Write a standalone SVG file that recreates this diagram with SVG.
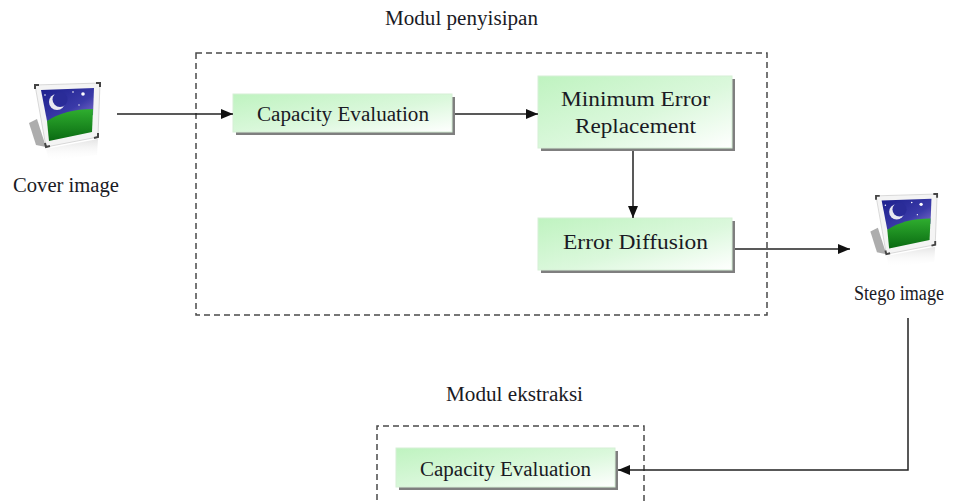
<svg xmlns="http://www.w3.org/2000/svg" width="954" height="504" viewBox="0 0 954 504">
<style>
.t{font-family:"Liberation Serif","DejaVu Serif","Times New Roman",serif;font-size:20px;fill:#1a1a24}
.dash{fill:none;stroke:#4a4a4a;stroke-width:1.5;stroke-dasharray:6 4}
.box{fill:url(#gBox);stroke:#d6efd6;stroke-width:1}
.shadow{fill:#7f7f7f}
.ln{fill:none;stroke:#222;stroke-width:1.5}
</style>
<defs>
<linearGradient id="gBox" x1="0" y1="0" x2="1" y2="1">
<stop offset="0" stop-color="#bff3c0"/>
<stop offset="0.55" stop-color="#dbf8dc"/>
<stop offset="1" stop-color="#ffffff"/>
</linearGradient>
<linearGradient id="gSky" x1="0" y1="0" x2="1" y2="1">
<stop offset="0" stop-color="#1b1f8c"/>
<stop offset="0.6" stop-color="#3a3aa8"/>
<stop offset="1" stop-color="#8a78d0"/>
</linearGradient>
<linearGradient id="gGrass" x1="0" y1="0" x2="0" y2="1">
<stop offset="0" stop-color="#2fae2f"/>
<stop offset="1" stop-color="#0a6a12"/>
</linearGradient>
<linearGradient id="gRefl" x1="0" y1="0" x2="0" y2="1">
<stop offset="0" stop-color="#d8d8d8" stop-opacity="0.7"/>
<stop offset="1" stop-color="#ffffff" stop-opacity="0"/>
</linearGradient>
<marker id="ah" viewBox="0 0 12 10" refX="12" refY="5" markerWidth="12" markerHeight="10" markerUnits="userSpaceOnUse" orient="auto">
<path d="M0,0 L12,5 L0,10 Z" fill="#111"/>
</marker>
<g id="icon">
<polygon points="-6,40 1,62 11,64 2,36" fill="#8a8a8a" opacity="0.7"/>
<polygon points="11,66 63,56 62,72 14,78" fill="url(#gRefl)"/>
<polygon points="0,2 65,0 63,54 11,64" fill="#f4f4f4" stroke="#cfcfcf" stroke-width="0.8"/>
<polygon points="6,7 59,5 58,32 12,38" fill="url(#gSky)"/>
<path d="M12,38 Q30,26 58,26 L57,49 L14,58 Z" fill="url(#gGrass)"/>
<circle cx="22" cy="19" r="8" fill="#e8e8f0"/>
<circle cx="25" cy="16.5" r="7.5" fill="#2a2c98"/>
<circle cx="48" cy="11" r="1.8" fill="#fff"/>
<circle cx="38" cy="9" r="0.8" fill="#fff"/>
<circle cx="10" cy="12" r="0.8" fill="#fff"/>
<circle cx="44" cy="22" r="0.7" fill="#fff"/>
<path d="M0,6 L0,2 L4,2" fill="none" stroke="#444" stroke-width="2"/>
<path d="M61,0 L65,0 L65,4" fill="none" stroke="#444" stroke-width="2"/>
<path d="M63,50 L63,54 L59,55" fill="none" stroke="#444" stroke-width="2"/>
<path d="M15,63 L11,64 L10,60" fill="none" stroke="#444" stroke-width="2"/>
</g>
</defs>
<rect width="954" height="504" fill="#fff"/>

<g id="modul-penyisipan">
<text class="t" x="385" y="25" textLength="153" lengthAdjust="spacingAndGlyphs">Modul penyisipan</text>
<rect class="dash" x="196" y="53" width="571" height="262"/>
</g>

<g id="modul-ekstraksi">
<text class="t" x="446" y="401" textLength="137" lengthAdjust="spacingAndGlyphs">Modul ekstraksi</text>
<path class="dash" d="M377,510 L377,426 L644,426 L644,510"/>
</g>

<g id="cover-image">
<use href="#icon" transform="translate(35,83)"/>
<text class="t" x="13" y="192" textLength="106" lengthAdjust="spacingAndGlyphs">Cover image</text>
</g>

<g id="stego-image">
<use href="#icon" transform="translate(876,194) scale(0.94)"/>
<text class="t" x="854" y="300" textLength="90" lengthAdjust="spacingAndGlyphs">Stego image</text>
</g>

<g id="capacity-evaluation-1">
<rect class="shadow" x="236" y="97" width="219" height="38"/>
<rect class="box" x="233" y="94" width="219" height="38"/>
<text class="t" x="257" y="121" textLength="172" lengthAdjust="spacingAndGlyphs">Capacity Evaluation</text>
</g>

<g id="minimum-error-replacement">
<rect class="shadow" x="541" y="79" width="194" height="72"/>
<rect class="box" x="538" y="76" width="194" height="72"/>
<text class="t" x="561" y="106" textLength="149" lengthAdjust="spacingAndGlyphs">Minimum Error</text>
<text class="t" x="575" y="133" textLength="121" lengthAdjust="spacingAndGlyphs">Replacement</text>
</g>

<g id="error-diffusion">
<rect class="shadow" x="541" y="221" width="194" height="52"/>
<rect class="box" x="538" y="218" width="194" height="52"/>
<text class="t" x="563" y="249" textLength="145" lengthAdjust="spacingAndGlyphs">Error Diffusion</text>
</g>

<g id="capacity-evaluation-2">
<rect class="shadow" x="399" y="451" width="219" height="39"/>
<rect class="box" x="396" y="448" width="219" height="39"/>
<text class="t" x="420" y="476" textLength="171" lengthAdjust="spacingAndGlyphs">Capacity Evaluation</text>
</g>

<g id="connectors">
<path class="ln" d="M117,114 L233,114" marker-end="url(#ah)"/>
<path class="ln" d="M455,114 L538,114" marker-end="url(#ah)"/>
<path class="ln" d="M633,151 L633,218" marker-end="url(#ah)"/>
<path class="ln" d="M735,249 L850,249" marker-end="url(#ah)"/>
<path class="ln" d="M908,318 L908,470 L618,470" marker-end="url(#ah)"/>
</g>
</svg>
